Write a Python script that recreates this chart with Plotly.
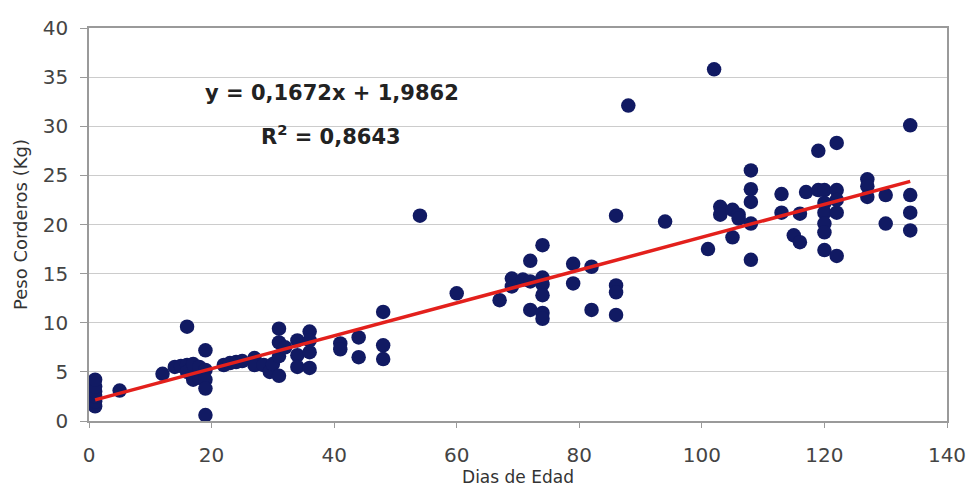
import plotly.graph_objects as go

dias = [1, 1, 1, 1, 1, 1, 5, 12, 14, 15, 16, 16, 16, 17, 17, 18, 18, 19, 19, 19, 19, 19,
        22, 23, 24, 25, 27, 27, 28.5, 29.5, 30, 31, 31, 31, 31, 32, 34, 34, 34, 36, 36, 36, 36,
        41, 41, 44, 44, 48, 48, 48,
        54, 60, 67, 69, 69, 70.8, 72, 72, 72, 74, 74, 74, 74, 74, 74, 79, 79, 82, 82,
        86, 86, 86, 86, 88, 94,
        101, 102, 103, 103, 105, 105, 106, 106, 108, 108, 108, 108, 108,
        113, 113, 115, 116, 116, 117, 119, 119, 120, 120, 120, 120, 120, 120,
        122, 122, 122, 122, 122, 127, 127, 127, 130, 130, 134, 134, 134, 134]
peso = [1.5, 2.0, 2.5, 3.0, 3.5, 4.2, 3.1, 4.8, 5.5, 5.6, 9.6, 5.7, 5.0, 5.8, 4.2, 5.5, 4.4, 7.2, 5.2, 4.2, 3.3, 0.6,
        5.7, 5.9, 6.0, 6.1, 6.4, 5.7, 5.7, 5.0, 5.8, 9.4, 8.0, 6.6, 4.6, 7.5, 8.2, 6.7, 5.5, 9.1, 8.2, 7.0, 5.4,
        7.9, 7.3, 8.5, 6.5, 11.1, 7.7, 6.3,
        20.9, 13.0, 12.3, 14.5, 13.7, 14.4, 16.3, 14.2, 11.3, 17.9, 14.6, 13.9, 12.8, 11.0, 10.4, 16.0, 14.0, 15.7, 11.3,
        20.9, 13.8, 13.1, 10.8, 32.1, 20.3,
        17.5, 35.8, 21.8, 21.0, 21.5, 18.7, 21.0, 20.6, 25.5, 23.6, 22.3, 20.1, 16.4,
        23.1, 21.2, 18.9, 21.1, 18.2, 23.3, 23.5, 27.5, 23.5, 22.2, 21.2, 20.1, 19.2, 17.4,
        28.3, 23.5, 21.2, 22.5, 16.8, 24.6, 23.9, 22.8, 23.0, 20.1, 30.1, 23.0, 21.2, 19.4]

pendiente = 0.1672
intercepto = 1.9862
linea_x = [1, 134]
linea_y = [pendiente * v + intercepto for v in linea_x]

x_ticks = [0, 20, 40, 60, 80, 100, 120, 140]
y_ticks = [0, 5, 10, 15, 20, 25, 30, 35, 40]

FONT = "DejaVu Sans, Liberation Sans, Arial"

fig = go.Figure()
fig.add_trace(go.Scatter(x=dias, y=peso, mode="markers",
                         marker=dict(size=14.5, color="#111a63", line=dict(width=0)),
                         showlegend=False))
fig.add_trace(go.Scatter(x=linea_x, y=linea_y, mode="lines",
                         line=dict(color="#e3201c", width=3.5), showlegend=False))

fig.update_layout(
    width=971, height=491,
    margin=dict(l=89, r=24, t=28, b=70, autoexpand=False),
    paper_bgcolor="white", plot_bgcolor="white",
    font=dict(family=FONT, color="#333333"),
    xaxis=dict(range=[0, 140], tickvals=x_ticks, showgrid=False, zeroline=False,
               automargin=False,
               showline=True, linecolor="#9a9a9a", linewidth=1.5, mirror=True,
               ticks="outside", ticklen=5, tickcolor="#9a9a9a",
               ticklabelstandoff=10,
               tickfont=dict(family=FONT, size=20, color="#444444"),
               title=dict(text="Dias de Edad", font=dict(family=FONT, size=17, color="#333333"),
                          standoff=4)),
    yaxis=dict(range=[0, 40], tickvals=y_ticks, showgrid=True, gridcolor="#cccccc", gridwidth=1.2,
               zeroline=False, automargin=False,
               showline=True, linecolor="#9a9a9a", linewidth=1.5, mirror=True,
               ticks="outside", ticklen=7, tickcolor="#9a9a9a",
               ticklabelstandoff=8,
               tickfont=dict(family=FONT, size=20, color="#444444"),
               title=dict(text="Peso Corderos (Kg)", font=dict(family=FONT, size=18, color="#333333"),
                          standoff=10)),
    annotations=[
        dict(x=39.6, y=33.4, xref="x", yref="y", text="<b>y = 0,1672x + 1,9862</b>",
             showarrow=False, font=dict(family=FONT, size=21, color="#222222")),
        dict(x=39.5, y=29.1, xref="x", yref="y", text="<b>R<sup>2</sup> = 0,8643</b>",
             showarrow=False, font=dict(family=FONT, size=21, color="#222222")),
    ],
)

fig.write_html("out.html")
